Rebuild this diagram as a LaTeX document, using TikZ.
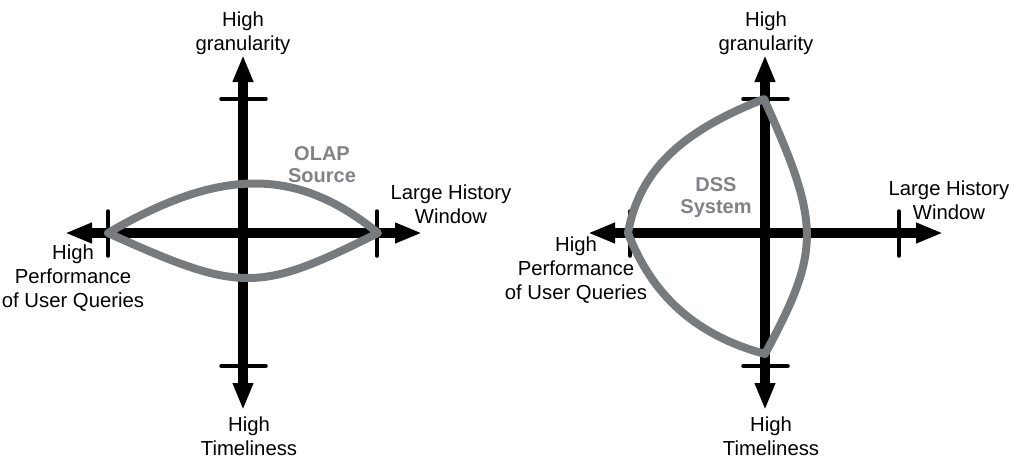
\documentclass[tikz,border=0pt]{standalone}
\usepackage{fontspec}
\setmainfont{Liberation Sans}
\usetikzlibrary{arrows.meta}
\definecolor{curvegray}{RGB}{120,123,125}
\definecolor{labelgray}{RGB}{128,130,133}
\tikzset{
  axisline/.style={line width=10pt,{Triangle[length=27pt,width=19pt]}-{Triangle[length=27pt,width=19pt]}},
  tickline/.style={line width=3.5pt,line cap=round},
  region/.style={curvegray,line width=8pt,line join=round,line cap=round},
  lbl/.style={font=\fontsize{20.3}{24}\selectfont,align=center,anchor=base,inner sep=0pt},
  glbl/.style={lbl,font=\fontsize{20}{22}\selectfont\bfseries,text=labelgray}
}
\begin{document}
\begin{tikzpicture}[x=1pt,y=-1pt]
\useasboundingbox (0,0) rectangle (1020,461);
% ---------- left diagram ----------
\coordinate (LT) at (243,55);
\coordinate (LB) at (243,410);
\coordinate (LL) at (65,233);
\coordinate (LR) at (422,233);
\draw[axisline] (LB) -- (LT);
\draw[axisline] (LL) -- (LR);
\coordinate (lt1) at (221,99);  \coordinate (lt2) at (266,99);
\coordinate (lb1) at (221,366); \coordinate (lb2) at (266,366);
\coordinate (ll1) at (108,211); \coordinate (ll2) at (108,256);
\coordinate (lr1) at (377,211); \coordinate (lr2) at (377,256);
\draw[tickline] (lt1) -- (lt2);
\draw[tickline] (lb1) -- (lb2);
\draw[tickline] (ll1) -- (ll2);
\draw[tickline] (lr1) -- (lr2);
\coordinate (OL) at (108,233);
\coordinate (OR) at (378,233);
\draw[region] (OL) .. controls (221,167) and (297,167) .. (OR)
  .. controls (258,293) and (241,293) .. cycle;
\node[lbl] (lgran) at (243,50) {High\\granularity};
\node[lbl] (ltime) at (249,455) {High\\Timeliness};
\node[lbl] (lhist) at (451,223) {Large History\\Window};
\node[lbl] (lperf) at (73,307) {High\\Performance\\of User Queries};
\node[glbl] (olap) at (322,182) {OLAP\\Source};
% ---------- right diagram ----------
\coordinate (RT) at (765,55);
\coordinate (RB) at (765,410);
\coordinate (RL) at (588,233);
\coordinate (RR) at (943,233);
\draw[axisline] (RB) -- (RT);
\draw[axisline] (RL) -- (RR);
\coordinate (rt1) at (743,99);  \coordinate (rt2) at (788,99);
\coordinate (rb1) at (743,366); \coordinate (rb2) at (788,366);
\coordinate (rl1) at (630,211); \coordinate (rl2) at (630,256);
\coordinate (rr1) at (899,211); \coordinate (rr2) at (899,256);
\draw[tickline] (rt1) -- (rt2);
\draw[tickline] (rb1) -- (rb2);
\draw[tickline] (rl1) -- (rl2);
\draw[tickline] (rr1) -- (rr2);
\coordinate (DT) at (764,99);
\coordinate (DL) at (628,233);
\coordinate (DB) at (765,354);
\draw[region] (DT) .. controls (690,128) and (640,165) .. (DL)
  .. controls (652,295) and (695,335) .. (DB)
  .. controls (821,250) and (821,225) .. cycle;
\node[lbl] (rgran) at (766,50) {High\\granularity};
\node[lbl] (rtime) at (771,455) {High\\Timeliness};
\node[lbl] (rhist) at (949,219) {Large History\\Window};
\node[lbl] (rperf) at (576,299) {High\\Performance\\of User Queries};
\node[glbl] (dss) at (716,213) {DSS\\System};
\end{tikzpicture}
\end{document}
